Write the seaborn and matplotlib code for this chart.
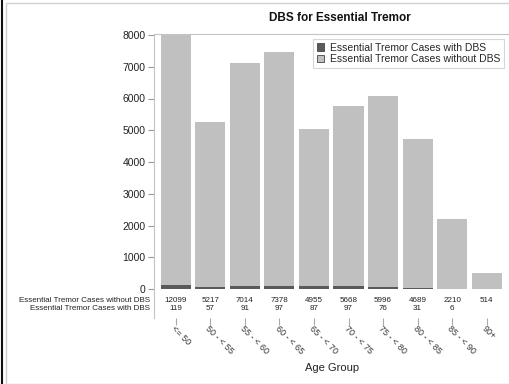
import numpy as np
import pandas as pd
import matplotlib
matplotlib.use('Agg')
import matplotlib.pyplot as plt
import seaborn as sns
from matplotlib.patches import Rectangle
from matplotlib.lines import Line2D
import matplotlib.transforms as mtransforms

# values
age_groups = ['<= 50', '50 - < 55', '55 - < 60', '60 - < 65', '65 - < 70',
              '70 - < 75', '75 - < 80', '80 - < 85', '85 - < 90', '90+']
without_dbs = [12099, 5217, 7014, 7378, 4955, 5668, 5996, 4689, 2210, 514]
with_dbs = [119, 57, 91, 97, 87, 97, 76, 31, 6, 0]

df = pd.DataFrame({'age': age_groups, 'without': without_dbs, 'with': with_dbs})
df['total'] = df['without'] + df['with']

light = '#c0c0c0'
dark = '#5a5a5a'
spine_col = '#c4c4c4'

sns.set_style('white')
plt.rcParams['font.family'] = ['Liberation Sans', 'DejaVu Sans']

W, H = 509, 384
fig = plt.figure(figsize=(W / 100, H / 100), dpi=100)
ax = fig.add_axes([154 / W, 1 - 318 / H, 358 / W, 284 / H])

sns.barplot(data=df, x='age', y='total', color=light, saturation=1, width=0.87,
            ax=ax, label='Essential Tremor Cases without DBS', linewidth=0)
sns.barplot(data=df, x='age', y='with', color=dark, saturation=1, width=0.87,
            ax=ax, label='Essential Tremor Cases with DBS', linewidth=0)

# 0 at y=289px, 8000 at y=35px
per = (289 - 35) / 8000
ax.set_ylim(-(318 - 289) / per, 8000 + 1 / per)
ax.set_xlim((154 - 175.7) / 34.56, (512 - 175.7) / 34.56)
ax.set_yticks(range(0, 8001, 1000))
ax.set_xlabel('')
ax.set_ylabel('')

for s in ['left', 'top', 'right']:
    ax.spines[s].set_color(spine_col)
    ax.spines[s].set_linewidth(0.8)
ax.spines['bottom'].set_visible(False)

ax.tick_params(axis='y', length=4, width=0.8, color='#999999', labelsize=7.5,
               labelcolor='#222222', pad=2, left=True)
ax.tick_params(axis='x', length=5, width=0.8, color='#aaaaaa', labelsize=6.5,
               labelcolor='#333333', pad=2, bottom=True)
ax.set_xticks(range(len(age_groups)))
ax.set_xticklabels(age_groups, rotation=-45, ha='left', va='center',
                   rotation_mode='anchor')
for t in ax.get_xticklabels():
    t.set_transform(t.get_transform() + mtransforms.ScaledTranslation(-3 / 100, 0, fig.dpi_scale_trans))

# table below the bars
trans = mtransforms.blended_transform_factory(ax.transData, fig.transFigure)
y1 = 1 - 300 / H
y2 = 1 - 308 / H
for i in range(len(age_groups)):
    ax.text(i, y1, str(without_dbs[i]), transform=trans, ha='center', va='center',
            fontsize=5.8, color='#222222')
    if with_dbs[i] > 0:
        ax.text(i, y2, str(with_dbs[i]), transform=trans, ha='center', va='center',
                fontsize=5.8, color='#222222')
fig.text(150 / W, y1, 'Essential Tremor Cases without DBS', ha='right', va='center',
         fontsize=5.8, color='#222222')
fig.text(150 / W, y2, 'Essential Tremor Cases with DBS', ha='right', va='center',
         fontsize=5.8, color='#222222')

# legend
handles, labels = ax.get_legend_handles_labels()
order = [labels.index('Essential Tremor Cases with DBS'),
         labels.index('Essential Tremor Cases without DBS')]
leg = ax.legend([handles[i] for i in order], [labels[i] for i in order],
                loc='upper left', bbox_to_anchor=(313 / W, 1 - 39 / H),
                bbox_transform=fig.transFigure, borderaxespad=0, fontsize=7.5,
                frameon=True, fancybox=False, handlelength=0.7, handleheight=0.7,
                handletextpad=0.6, labelspacing=0.15, borderpad=0.35)
leg.get_frame().set_edgecolor('#cccccc')
leg.get_frame().set_linewidth(0.8)
for p in leg.get_patches():
    p.set_edgecolor('#444444')
    p.set_linewidth(0.6)

fig.text(340 / W, 1 - 18 / H, 'DBS for Essential Tremor', ha='center', va='center',
         fontsize=8.5, fontweight='bold', color='#111111')
fig.text(332 / W, 1 - 368 / H, 'Age Group', ha='center', va='center',
         fontsize=8, color='#222222')

# image frame
fig.patches.append(Rectangle((6 / W, 0), 1, 1 - 3 / H, transform=fig.transFigure,
                             fill=False, edgecolor='#d0d0d0', linewidth=1))
fig.lines.append(Line2D([1.5 / W, 1.5 / W], [0, 1], transform=fig.transFigure,
                        color='#111111', linewidth=1.5))

fig.savefig('out.png', dpi=100)
